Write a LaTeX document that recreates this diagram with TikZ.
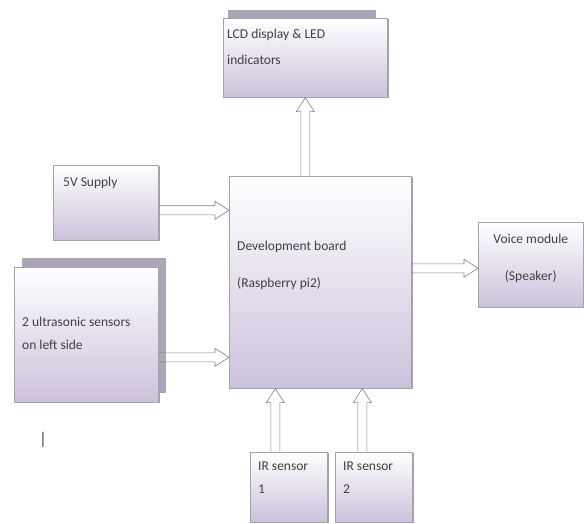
\documentclass[tikz,border=0pt]{standalone}
\usepackage{fontspec}
\setmainfont{Carlito}
\usetikzlibrary{calc,shadows}
\definecolor{boxlav}{RGB}{204,193,219}
\definecolor{shadelav}{RGB}{172,165,184}
\definecolor{edgegray}{RGB}{165,163,170}

\begin{document}
\begin{tikzpicture}[x=1pt, y=-1pt, font=\fontsize{13.5}{16}\selectfont,
  blk/.style={draw=edgegray, line width=0.6pt, top color=white, bottom color=boxlav,
    inner sep=0pt, anchor=north west,
    drop shadow={shadow xshift=1.5pt, shadow yshift=-1pt, fill=edgegray, opacity=1}},
  lbl/.style={inner sep=0pt, anchor=north west, align=left, text=black!75},
  % hollow arrow, left to right
  harr/.style={draw=gray, line width=0.6pt, to path={let \p1=(\tikztostart), \p2=(\tikztotarget) in
    (\x1,\y1+4.5pt) -- (\x2-14pt,\y1+4.5pt) -- (\x2-14pt,\y1+9pt) -- (\x2,\y1)
    -- (\x2-14pt,\y1-9pt) -- (\x2-14pt,\y1-4.5pt) -- (\x1,\y1-4.5pt)}},
  % hollow arrow, bottom to top
  uarr/.style={draw=gray, line width=0.6pt, to path={let \p1=(\tikztostart), \p2=(\tikztotarget) in
    (\x1-4.5pt,\y1) -- (\x1-4.5pt,\y2-14pt) -- (\x1-9pt,\y2-14pt) -- (\x1,\y2)
    -- (\x1+9pt,\y2-14pt) -- (\x1+4.5pt,\y2-14pt) -- (\x1+4.5pt,\y1)}}]

  \useasboundingbox (0,0) rectangle (584,524);

  % blocks
  \node[blk, minimum width=164pt, minimum height=79pt,
    drop shadow={shadow xshift=-4pt, shadow yshift=14pt, shadow scale=0.9, fill=shadelav, opacity=1}] (lcd) at (223,18) {};
  \node[blk, minimum width=105pt, minimum height=75pt] (sup) at (53,165) {};
  \node[blk, minimum width=144pt, minimum height=135pt,
    drop shadow={shadow xshift=8pt, shadow yshift=9pt, fill=shadelav, opacity=1}] (ult) at (14,267) {};
  \node[blk, minimum width=182pt, minimum height=212pt] (dev) at (229,176) {};
  \node[blk, minimum width=105pt, minimum height=85pt] (voice) at (478,222) {};
  \node[blk, minimum width=77pt, minimum height=70pt] (ir1) at (250,452) {};
  \node[blk, minimum width=77pt, minimum height=70pt] (ir2) at (335,452) {};

  % texts
  \node[lbl] (lcdtxt) at ([shift={(4,11)}]lcd.north west) {LCD display \& LED\\[10pt]indicators};
  \node[lbl] (suptxt) at ([shift={(10,12)}]sup.north west) {5V Supply};
  \node[lbl] (ulttxt) at ([shift={(8,50)}]ult.north west) {2 ultrasonic sensors\\[7pt]on left side};
  \node[lbl] (devtxt) at ([shift={(8,65)}]dev.north west) {Development board\\[21pt](Raspberry pi2)};
  \node[lbl, anchor=north, align=center] (voicetxt) at ([shift={(0,12)}]voice.north) {Voice module\\[21pt](Speaker)};
  \node[lbl] (ir1txt) at ([shift={(8,10)}]ir1.north west) {IR sensor\\[7pt]1};
  \node[lbl] (ir2txt) at ([shift={(8,10)}]ir2.north west) {IR sensor\\[7pt]2};
  \node[lbl, anchor=center, font=\fontsize{17}{17}\selectfont] (mark) at (43,440) {|};

  % connectors
  \coordinate (devtop) at ([xshift=-15pt]dev.north);
  \coordinate (supout) at ([yshift=-7.5pt]sup.east);
  \coordinate (ultout) at ([yshift=-22.5pt]ult.east);
  \coordinate (devout) at ([yshift=14pt]dev.east);
  \coordinate (ir1out) at ([xshift=-13.5pt]ir1.north);
  \coordinate (ir2out) at ([xshift=-11.5pt]ir2.north);

  \draw[uarr] (devtop) to (lcd.south);
  \draw[harr] (supout) to (dev.west);
  \draw[harr] (ultout) to (dev.west);
  \draw[harr] (devout) to (voice.west);
  \draw[uarr] (ir1out) to (dev.south);
  \draw[uarr] (ir2out) to (dev.south);
\end{tikzpicture}
\end{document}
